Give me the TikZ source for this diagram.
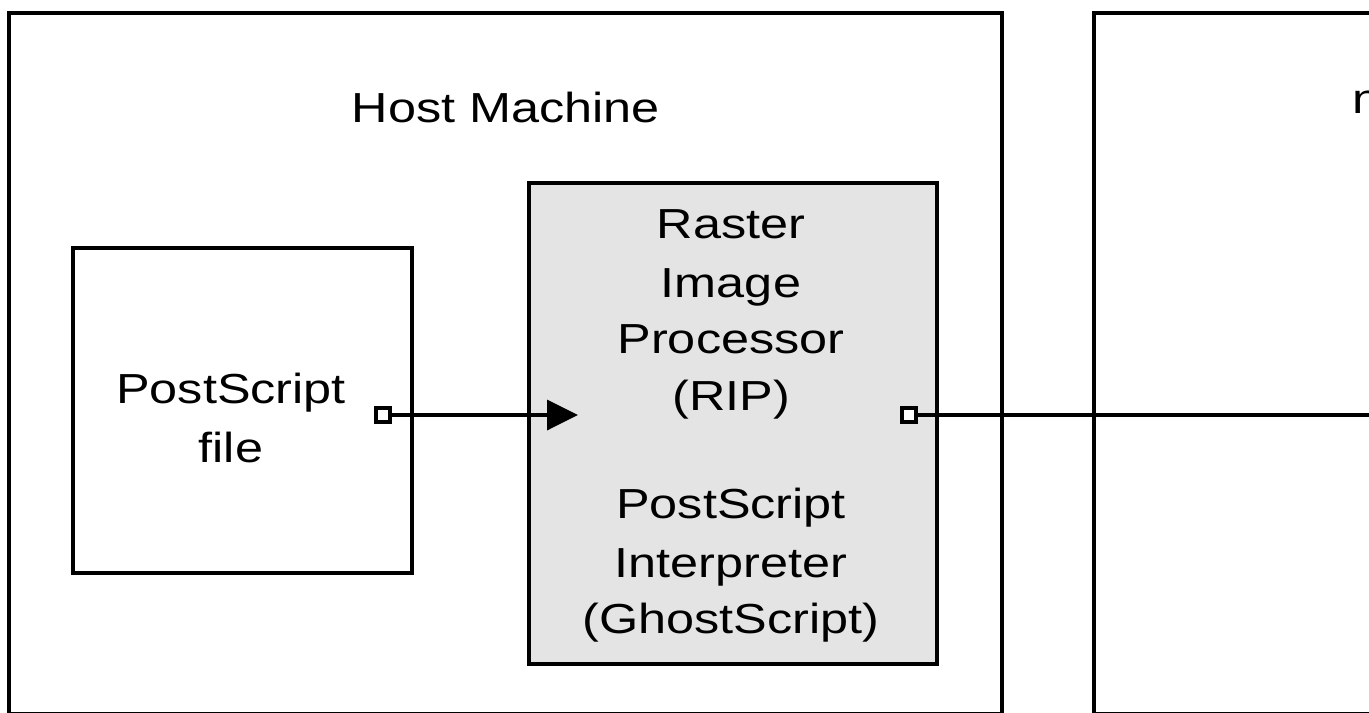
\documentclass[tikz,border=0pt]{standalone}
\usepackage{fontspec}
\setmainfont{Liberation Sans}[FakeStretch=1.2]
\usetikzlibrary{arrows.meta}
\definecolor{ripgray}{HTML}{E4E4E4}
\begin{document}
\begin{tikzpicture}[x=0.02cm,y=-0.02cm,
  frame/.style={draw=black, line width=2.3pt, inner sep=0pt, outer sep=0pt},
  lbl/.style={inner sep=0pt, anchor=base, font=\fontsize{23.9}{32}\selectfont},
  port/.style={draw=black, fill=white, line width=2.3pt, minimum size=0.28cm, inner sep=0pt, outer sep=0pt},
  wire/.style={line width=2.1pt}]
\useasboundingbox (0,0) rectangle (1369,713);
\clip (0,0) rectangle (1369,713);
% outer machines
\node[frame, minimum width=19.86cm, minimum height=14.02cm] (host) at (505.5,363.5) {};
\node[frame, minimum width=14.12cm, minimum height=14.02cm] (remote) at (1447,363.5) {};
% inner boxes
\node[frame, minimum width=6.78cm, minimum height=6.5cm] (psfile) at (242.5,410.5) {};
\node[frame, fill=ripgray, minimum width=8.16cm, minimum height=9.62cm] (rip) at (733,423.5) {};
% ports and connectors
\node[port] (p1) at (383,415) {};
\node[port] (p2) at (909,415) {};
\coordinate (tip) at (578,415);
\coordinate (out) at (1390,415);
\draw[wire, -{Triangle[length=0.62cm, width=0.6cm]}] (p1.east) -- (tip);
\draw[wire] (p2.east) -- (out);
% labels
\node[lbl] (hostlbl) at (506,123) {Host Machine};
\node[lbl, anchor=base west] (remotelbl) at (1352,113) {n};
\node[lbl] (ps1) at (231,403) {PostScript};
\node[lbl] (ps2) at (231,462) {file};
\node[lbl] (r1) at (731,238) {Raster};
\node[lbl] (r2) at (731,297) {Image};
\node[lbl] (r3) at (731,353) {Processor};
\node[lbl] (r4) at (731,410) {(RIP)};
\node[lbl] (r5) at (731,518) {PostScript};
\node[lbl] (r6) at (731,577) {Interpreter};
\node[lbl] (r7) at (731,633) {(GhostScript)};
\end{tikzpicture}
\end{document}
